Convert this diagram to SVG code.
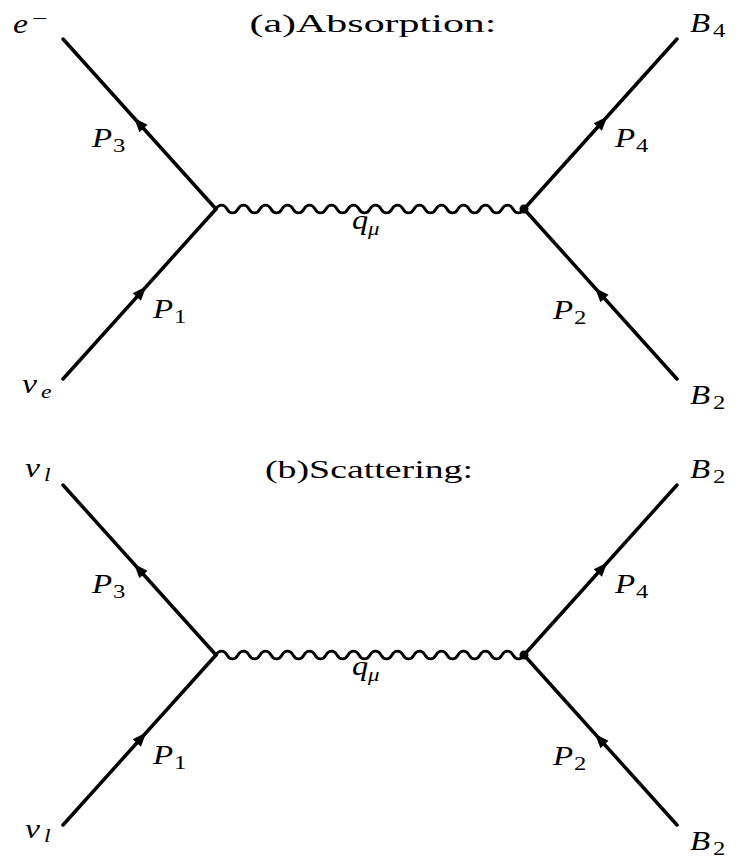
<svg xmlns="http://www.w3.org/2000/svg" xmlns:xlink="http://www.w3.org/1999/xlink" width="736" height="859" viewBox="0 0 736 859">
<style>
.ln{stroke:#000;stroke-width:3.5;fill:none;stroke-linecap:round}
.wv{stroke:#000;stroke-width:2.8;fill:none}
.m{font-family:"Liberation Serif",serif;font-style:italic;font-size:27px;fill:#000}
.s{font-family:"Liberation Serif",serif;font-size:19px;fill:#000}
.si{font-family:"Liberation Serif",serif;font-style:italic;font-size:19px;fill:#000}
.t{font-family:"Liberation Serif",serif;font-size:26px;fill:#000;text-anchor:middle}
</style>
<defs>
<path id="arr" d="M0,0 L-14,-5.5 L-14,5.5 Z" fill="#000"/>
<path id="wave" d="M216,209 c2.8,-5.2 8.2,-5.2 11,0 c2.8,5.2 8.2,5.2 11,0 c2.8,-5.2 8.2,-5.2 11,0 c2.8,5.2 8.2,5.2 11,0 c2.8,-5.2 8.2,-5.2 11,0 c2.8,5.2 8.2,5.2 11,0 c2.8,-5.2 8.2,-5.2 11,0 c2.8,5.2 8.2,5.2 11,0 c2.8,-5.2 8.2,-5.2 11,0 c2.8,5.2 8.2,5.2 11,0 c2.8,-5.2 8.2,-5.2 11,0 c2.8,5.2 8.2,5.2 11,0 c2.8,-5.2 8.2,-5.2 11,0 c2.8,5.2 8.2,5.2 11,0 c2.8,-5.2 8.2,-5.2 11,0 c2.8,5.2 8.2,5.2 11,0 c2.8,-5.2 8.2,-5.2 11,0 c2.8,5.2 8.2,5.2 11,0 c2.8,-5.2 8.2,-5.2 11,0 c2.8,5.2 8.2,5.2 11,0 c2.8,-5.2 8.2,-5.2 11,0 c2.8,5.2 8.2,5.2 11,0 c2.8,-5.2 8.2,-5.2 11,0 c2.8,5.2 8.2,5.2 11,0 c2.8,-5.2 8.2,-5.2 11,0 c2.8,5.2 8.2,5.2 11,0 c2.8,-5.2 8.2,-5.2 11,0 c2.8,5.2 8.2,5.2 11,0" class="wv"/>
</defs>
<rect width="736" height="859" fill="#fff"/>

<g id="connectors">
  <g id="conn-a">
    <line class="ln" x1="63" y1="379" x2="216" y2="209"/>
    <line class="ln" x1="216" y1="209" x2="63" y2="39"/>
    <line class="ln" x1="524" y1="209" x2="677" y2="39"/>
    <line class="ln" x1="677" y1="379" x2="524" y2="209"/>
    <use xlink:href="#wave"/>
    <use xlink:href="#arr" transform="translate(146.2 286.6) rotate(-48)"/>
    <use xlink:href="#arr" transform="translate(134.1 118.1) rotate(-132)"/>
    <use xlink:href="#arr" transform="translate(607.2 116.6) rotate(-48)"/>
    <use xlink:href="#arr" transform="translate(595.1 288.1) rotate(-132)"/>
  </g>
  <g id="conn-b" transform="translate(0 446)">
    <line class="ln" x1="63" y1="379" x2="216" y2="209"/>
    <line class="ln" x1="216" y1="209" x2="63" y2="39"/>
    <line class="ln" x1="524" y1="209" x2="677" y2="39"/>
    <line class="ln" x1="677" y1="379" x2="524" y2="209"/>
    <use xlink:href="#wave"/>
    <use xlink:href="#arr" transform="translate(146.2 286.6) rotate(-48)"/>
    <use xlink:href="#arr" transform="translate(134.1 118.1) rotate(-132)"/>
    <use xlink:href="#arr" transform="translate(607.2 116.6) rotate(-48)"/>
    <use xlink:href="#arr" transform="translate(595.1 288.1) rotate(-132)"/>
  </g>
</g>

<g id="title-a"><text class="t" x="373" y="32" textLength="247" lengthAdjust="spacingAndGlyphs">(a)Absorption:</text></g>
<g id="title-b"><text class="t" x="369" y="478" textLength="208" lengthAdjust="spacingAndGlyphs">(b)Scattering:</text></g>

<g id="a-vertex-right"><circle cx="524" cy="209" r="4.5" fill="#000"/></g>
<g id="a-q"><text class="m" transform="translate(352 229) scale(1.2 1)">q</text><text class="si" transform="translate(368 235) scale(1.2 1)">μ</text></g>
<g id="a-e"><text class="m" transform="translate(13 33) scale(1.25 1)">e</text><text class="s" transform="translate(32 25) scale(1.45 1)">−</text></g>
<g id="a-P3"><text class="m" transform="translate(92 147) scale(1.22 1)">P</text><text class="s" transform="translate(113 152) scale(1.3 1)">3</text></g>
<g id="a-P1"><text class="m" transform="translate(153 318) scale(1.22 1)">P</text><text class="s" transform="translate(174 323) scale(1.3 1)">1</text></g>
<g id="a-nue"><text class="m" transform="translate(22 393) scale(1.25 1)">ν</text><text class="si" transform="translate(41 398) scale(1.25 1)">e</text></g>
<g id="a-P4"><text class="m" transform="translate(615 147) scale(1.22 1)">P</text><text class="s" transform="translate(636 152) scale(1.3 1)">4</text></g>
<g id="a-B4"><text class="m" transform="translate(690 32) scale(1.22 1)">B</text><text class="s" transform="translate(713 37) scale(1.3 1)">4</text></g>
<g id="a-P2"><text class="m" transform="translate(553 319) scale(1.22 1)">P</text><text class="s" transform="translate(574 324) scale(1.3 1)">2</text></g>
<g id="a-B2"><text class="m" transform="translate(690 404) scale(1.22 1)">B</text><text class="s" transform="translate(713 409) scale(1.3 1)">2</text></g>

<g id="b-vertex-right"><circle cx="524" cy="655" r="4.5" fill="#000"/></g>
<g id="b-q"><text class="m" transform="translate(352 675) scale(1.2 1)">q</text><text class="si" transform="translate(368 681) scale(1.2 1)">μ</text></g>
<g id="b-nul-top"><text class="m" transform="translate(25 477) scale(1.25 1)">ν</text><text class="si" transform="translate(44 481) scale(1.25 1)">l</text></g>
<g id="b-P3"><text class="m" transform="translate(92 593) scale(1.22 1)">P</text><text class="s" transform="translate(113 598) scale(1.3 1)">3</text></g>
<g id="b-P1"><text class="m" transform="translate(153 764) scale(1.22 1)">P</text><text class="s" transform="translate(174 769) scale(1.3 1)">1</text></g>
<g id="b-nul-bottom"><text class="m" transform="translate(25 838) scale(1.25 1)">ν</text><text class="si" transform="translate(44 842) scale(1.25 1)">l</text></g>
<g id="b-P4"><text class="m" transform="translate(615 593) scale(1.22 1)">P</text><text class="s" transform="translate(636 598) scale(1.3 1)">4</text></g>
<g id="b-B2-top"><text class="m" transform="translate(690 478) scale(1.22 1)">B</text><text class="s" transform="translate(713 483) scale(1.3 1)">2</text></g>
<g id="b-P2"><text class="m" transform="translate(553 765) scale(1.22 1)">P</text><text class="s" transform="translate(574 770) scale(1.3 1)">2</text></g>
<g id="b-B2-bottom"><text class="m" transform="translate(690 850) scale(1.22 1)">B</text><text class="s" transform="translate(713 855) scale(1.3 1)">2</text></g>
</svg>
